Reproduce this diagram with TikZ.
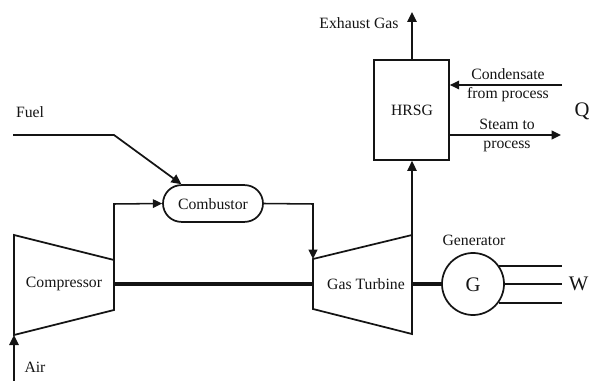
\documentclass[tikz,border=0pt]{standalone}
\usepackage{fontspec}
\setmainfont{Liberation Serif}
\usetikzlibrary{arrows.meta,shapes.misc}
\definecolor{ink}{gray}{0.08}
\tikzset{
  line/.style={draw=ink,line width=1.3pt},
  flow/.style={line,-{Triangle[length=7.5pt,width=7pt]}},
  thin flow/.style={draw=ink,line width=1.15pt,-{Triangle[length=7pt,width=6.5pt]}},
  shaft/.style={draw=ink,line width=3pt},
  lbl/.style={font=\fontsize{11.8}{14.3}\selectfont,text=ink,inner sep=0pt,align=center},
  big/.style={font=\fontsize{15.5}{17}\selectfont,text=ink,inner sep=0pt},
  unit/.style={line,minimum width=0pt}
}
\begin{document}
\begin{tikzpicture}[x=0.75pt,y=-0.75pt]
\useasboundingbox (0,0) rectangle (589,381);
% machine corners
\coordinate (cTL) at (14,235); \coordinate (cTR) at (114,260);
\coordinate (cBR) at (114,310); \coordinate (cBL) at (14,335);
\coordinate (tTL) at (313,259); \coordinate (tTR) at (412,235);
\coordinate (tBR) at (412,334); \coordinate (tBL) at (313,309);
\coordinate (cShaft) at (114,284); \coordinate (tShaftL) at (313,284); \coordinate (tShaftR) at (412,284);
\coordinate (airIn) at (14,381);
\coordinate (fuelIn) at (13,135); \coordinate (fuelBend) at (114,135);
\coordinate (exhaust) at (412,12);
\coordinate (condIn) at (562,85); \coordinate (steamOut) at (561,135);
\draw[line,line join=miter] (cTL)--(cTR)--(cBR)--(cBL)--cycle;
\draw[line,line join=miter] (tTL)--(tTR)--(tBR)--(tBL)--cycle;
\node[unit,draw,rounded rectangle,minimum width=75pt,minimum height=27.6pt,inner sep=0pt] (comb) at (213,203.5) {};
\node[lbl] (combl) at (213,204.5) {Combustor};
\node[unit,draw,rectangle,minimum width=56.25pt,minimum height=75pt,inner sep=0pt] (hrsg) at (411.5,110) {};
\node[lbl] (hrsgl) at (412,110.5) {HRSG};
\node[unit,draw,circle,minimum size=46.5pt,inner sep=0pt] (gen) at (473,284) {};
\node[big] (genl) at (473,284.5) {G};
% connectors
\draw[flow] (airIn)--(cBL);
\draw[flow] (fuelIn)--(fuelBend)--(comb.north west);
\draw[thin flow] (cTR)--(114,204)--(comb.west);
\draw[thin flow] (comb.east)--(313,204)--(tTL);
\draw[shaft] (cShaft)--(tShaftL);
\draw[shaft] (tShaftR)--(gen.west);
\draw[flow] (tTR)--(hrsg.south -| tTR);
\draw[flow] (hrsg.north -| tTR)--(exhaust);
\draw[thin flow] (condIn)--(condIn -| hrsg.east);
\draw[thin flow] (steamOut -| hrsg.east)--(steamOut);
\coordinate (w1) at (562,266); \coordinate (w2) at (562,284); \coordinate (w3) at (562,303);
\draw[line] (gen.35.5)--(gen.35.5 -| w1);
\draw[line] (gen.east)--(w2);
\draw[line] (gen.-36.5)--(gen.-36.5 -| w3);
% labels
\node[lbl] (fuel) at (30,112) {Fuel};
\node[lbl] (air) at (35,367) {Air};
\node[lbl] (compl) at (64,284) {Compressor};
\node[lbl] (turbl) at (366,284.5) {Gas Turbine};
\node[lbl] (genname) at (474,240) {Generator};
\node[lbl] (exh) at (359,23) {Exhaust Gas};
\node[lbl] (cond) at (508,85.5) {Condensate\\from process};
\node[lbl] (steam) at (507,135.5) {Steam to\\process};
\node[big] (q) at (582,111) {Q};
\node[big] (w) at (578.5,284) {W};
\end{tikzpicture}
\end{document}
